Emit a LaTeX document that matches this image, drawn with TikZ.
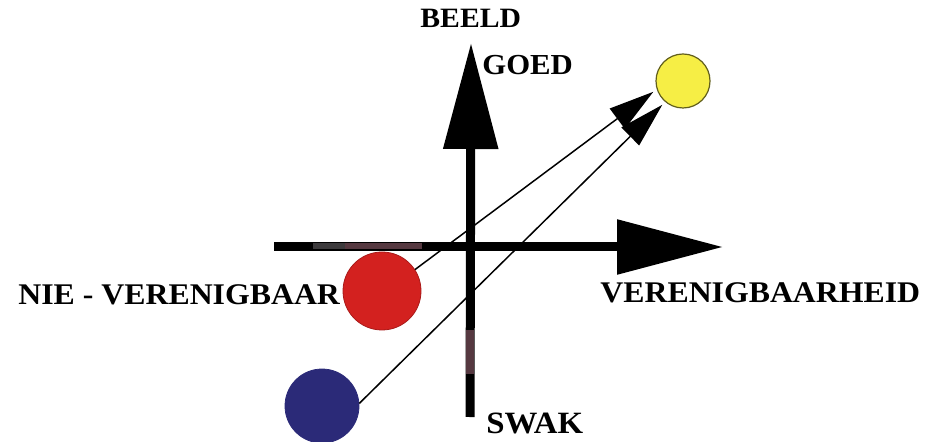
\documentclass[tikz,border=0pt]{standalone}
\usepackage{fontspec}
\setmainfont{Liberation Serif}[FakeStretch=1.06]
\usetikzlibrary{arrows.meta}
\definecolor{yel}{HTML}{F6EE45}
\definecolor{redc}{HTML}{D3211F}
\definecolor{bluec}{HTML}{2B2A78}
\definecolor{scanbrown}{HTML}{553840}
\definecolor{scangrey}{HTML}{3C3A3C}
\begin{document}
\begin{tikzpicture}[x=0.5pt,y=-0.5pt,
  axisline/.style={line width=4.5pt,-{Triangle[length=53pt,width=26.5pt]}},
  conn/.style={line width=0.75pt,-{Triangle[length=22.5pt,width=12.5pt]}},
  ball/.style={circle,draw=black!70,line width=0.4pt,inner sep=0pt},
  lbl/.style={inner sep=0pt,anchor=base west,font=\bfseries}]
\useasboundingbox (0,0) rectangle (929,442);
% circles
\node[ball,fill=yel,draw=black!60!yel,line width=0.6pt,minimum size=27pt] (yellow) at (683,81) {};
\node[ball,fill=redc,draw=redc!80!black,minimum size=39pt] (red) at (382,291) {};
\node[ball,fill=bluec,draw=bluec,minimum size=37pt] (blue) at (322,406) {};
% axes
\coordinate (hl) at (274,247);
\coordinate (hr) at (723,247);
\coordinate (vb) at (470,417);
\coordinate (vt) at (471,43);
\draw[axisline] (hl) -- (hr);
\draw[axisline] (vb) -- (vt);
\coordinate (g1) at (313,246.5);
\coordinate (g2) at (345,246.5);
\coordinate (b1) at (422,246.5);
\draw[scangrey,line width=3pt] (g1) -- (g2);
\draw[scanbrown,line width=3pt] (g2) -- (b1);
\coordinate (v1) at (470,330);
\coordinate (v2) at (470,374);
\draw[scanbrown,line width=3.8pt] (v1) -- (v2);
% connectors
\draw[conn] (red.33) -- ([shift={(200:2pt)}]yellow.200);
\draw[conn] (blue.4) -- ([shift={(229:2pt)}]yellow.229);
% labels
\node[lbl,font=\bfseries\fontsize{14}{16}\selectfont] (beeld) at (420,28) {BEELD};
\node[lbl,font=\bfseries\fontsize{14.5}{16}\selectfont] (goed) at (482,75) {GOED};
\node[lbl,font=\bfseries\fontsize{15}{17}\selectfont] (nie) at (18,305) {NIE - VERENIGBAAR};
\node[lbl,font=\bfseries\fontsize{15}{17}\selectfont] (ver) at (600,303) {VERENIGBAARHEID};
\node[lbl,font=\bfseries\fontsize{15.5}{17}\selectfont] (swak) at (486,433) {SWAK};
\end{tikzpicture}
\end{document}
